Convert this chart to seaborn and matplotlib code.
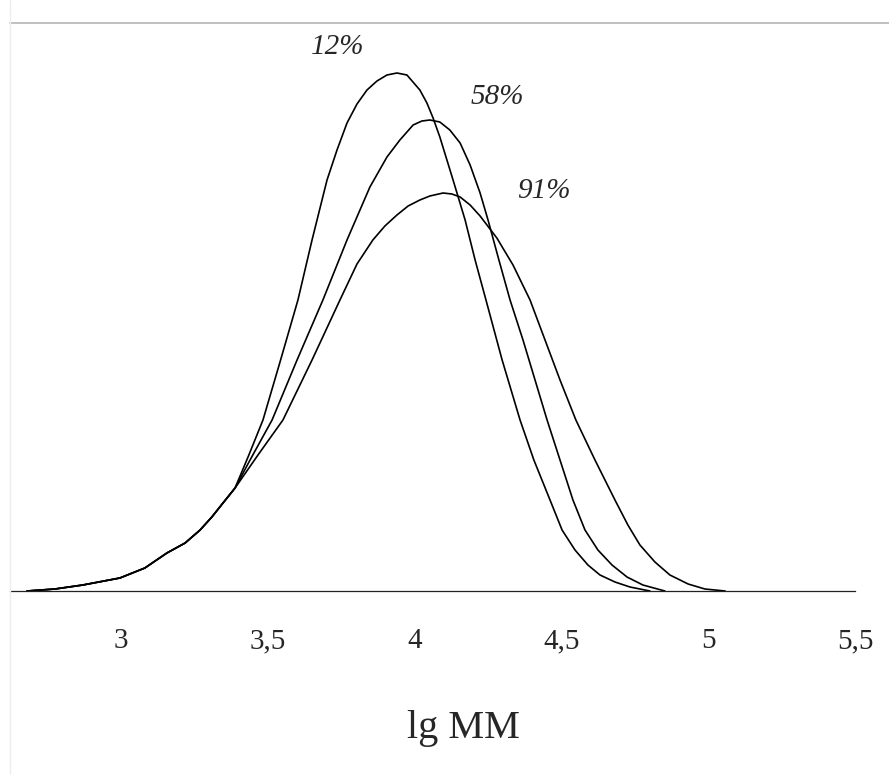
import pandas as pd
import matplotlib.pyplot as plt
import seaborn as sns
from matplotlib.lines import Line2D

# ── DATA ──────────────────────────────────────────────────────────────
# lg MM on x, relative mass fraction on y, one curve per conversion
# the three curves share the same low-MM tail
tail_lgm = [2.682, 2.777, 2.872, 2.998, 3.083, 3.158, 3.220, 3.271, 3.311, 3.349, 3.390]
tail_w   = [0.00, 0.02, 0.06, 0.13, 0.23, 0.38, 0.48, 0.61, 0.74, 0.88, 1.03]

lgm_12 = [3.437, 3.485, 3.543, 3.604, 3.652, 3.703, 3.737, 3.771, 3.805, 3.839,
          3.873, 3.907, 3.941, 3.975, 4.019, 4.043, 4.064, 4.087, 4.132, 4.173,
          4.207, 4.244, 4.299, 4.360, 4.407, 4.462, 4.503, 4.547, 4.591, 4.632,
          4.683, 4.734, 4.802]
w_12   = [1.36, 1.71, 2.29, 2.91, 3.51, 4.11, 4.41, 4.68, 4.87, 5.01,
          5.10, 5.16, 5.18, 5.16, 5.01, 4.88, 4.73, 4.54, 4.11, 3.71,
          3.31, 2.91, 2.31, 1.71, 1.31, 0.91, 0.61, 0.41, 0.26, 0.16,
          0.09, 0.04, 0.00]

lgm_58 = [3.441, 3.516, 3.601, 3.689, 3.771, 3.849, 3.907, 3.951, 3.996, 4.026,
          4.053, 4.087, 4.121, 4.156, 4.190, 4.224, 4.251, 4.288, 4.326, 4.370,
          4.411, 4.452, 4.496, 4.540, 4.581, 4.625, 4.673, 4.724, 4.778, 4.853]
w_58   = [1.31, 1.71, 2.31, 2.91, 3.51, 4.04, 4.34, 4.51, 4.66, 4.70,
          4.71, 4.69, 4.61, 4.48, 4.26, 3.98, 3.71, 3.31, 2.91, 2.51,
          2.11, 1.71, 1.31, 0.91, 0.61, 0.41, 0.26, 0.14, 0.06, 0.00]

lgm_91 = [3.468, 3.553, 3.652, 3.747, 3.805, 3.859, 3.900, 3.941, 3.979, 4.019,
          4.053, 4.098, 4.128, 4.156, 4.190, 4.224, 4.281, 4.336, 4.394, 4.445,
          4.496, 4.550, 4.615, 4.683, 4.727, 4.768, 4.819, 4.870, 4.932, 4.989,
          5.058]
w_91   = [1.36, 1.71, 2.31, 2.91, 3.27, 3.51, 3.65, 3.76, 3.85, 3.91,
          3.95, 3.98, 3.97, 3.94, 3.86, 3.75, 3.53, 3.26, 2.91, 2.51,
          2.11, 1.71, 1.31, 0.91, 0.66, 0.46, 0.29, 0.16, 0.07, 0.02,
          0.00]

conversions = ['12%', '58%', '91%']
label_pos   = [(3.741, 5.44), (4.282, 4.94), (4.442, 4.00)]

xticks      = [3, 3.5, 4, 4.5, 5, 5.5]
xticklabels = ['3', '3,5', '4', '4,5', '5', '5,5']

# long-form table for seaborn
frames = []
for name, xs, ys in zip(conversions, [lgm_12, lgm_58, lgm_91], [w_12, w_58, w_91]):
    frames.append(pd.DataFrame({'lgM': tail_lgm + xs, 'w': tail_w + ys, 'conv': name}))
curves = pd.concat(frames, ignore_index=True)

# ── PLOT ──────────────────────────────────────────────────────────────
sns.set_style('white')
plt.rcParams['font.family'] = ['Liberation Serif', 'DejaVu Serif']

fig = plt.figure(figsize=(8.89, 7.75), dpi=100)
ax = fig.add_axes([10 / 889, 1 - 591 / 775, 845 / 889, 568 / 775])

sns.lineplot(data=curves, x='lgM', y='w', hue='conv', sort=False, estimator=None,
             palette=['black'] * 3, linewidth=1.2, legend=False, ax=ax)

# conversion labels next to each peak
for name, (x, y) in zip(conversions, label_pos):
    ax.text(x, y, name, fontsize=21, style='italic', ha='center', va='center')

ax.set_xlim(2.624, 5.5)
ax.set_ylim(0, 5.68)
ax.set_xticks(xticks)
ax.set_xticklabels(xticklabels)
ax.set_yticks([])
ax.set_ylabel('')
ax.tick_params(axis='x', direction='in', length=6.5, width=0.8, color='#444444',
               pad=27, labelsize=21)
for side in ['left', 'right', 'top']:
    ax.spines[side].set_visible(False)
ax.spines['bottom'].set_color('#222222')
ax.spines['bottom'].set_linewidth(0.9)

ax.set_xlabel('lg MM', fontsize=29)
ax.xaxis.set_label_coords(0.537, -0.21)

# thin frame remnants of the original figure
fig.add_artist(Line2D([10 / 889, 1], [1 - 23 / 775] * 2, transform=fig.transFigure,
                      color='#b5b5b5', linewidth=1.2))
fig.add_artist(Line2D([10 / 889] * 2, [0, 1], transform=fig.transFigure,
                      color='#eeeeee', linewidth=1.0))

plt.savefig('out.png', dpi=100)
